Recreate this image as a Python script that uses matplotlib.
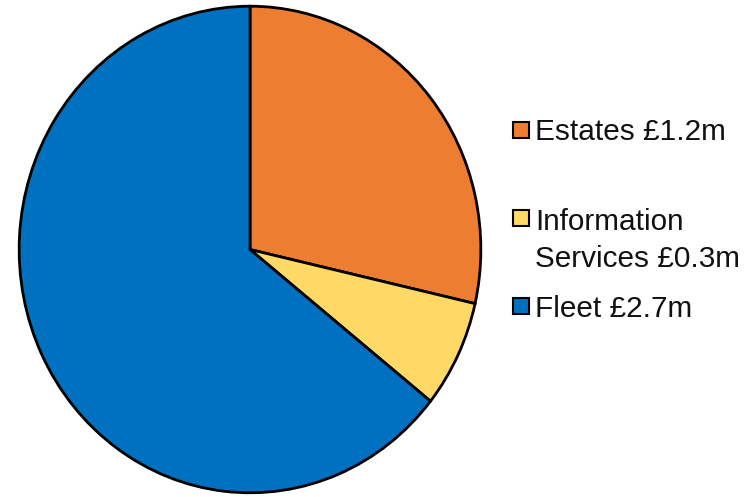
import matplotlib.pyplot as plt
from matplotlib.patches import Rectangle

plt.rcParams['font.family'] = ['Liberation Sans', 'DejaVu Sans']

labels = ['Estates £1.2m', 'Information\nServices £0.3m', 'Fleet £2.7m']
values = [1.2, 0.3, 2.7]
colors = ['#ED7D31', '#FFD966', '#0070C0']

W, H = 754, 497
fig = plt.figure(figsize=(W / 100, H / 100), dpi=100)

# pie fills a slightly taller-than-wide box, like the original
ax = fig.add_axes([18 / W, 3 / H, 464 / W, 489 / H])
ax.pie(values, colors=colors, startangle=90, counterclock=False,
       wedgeprops=dict(edgecolor='black', linewidth=2.0))
ax.set_aspect('auto')
ax.set_xlim(-1.005, 1.005)
ax.set_ylim(-1.005, 1.005)
ax.axis('off')

# legend drawn by hand so the square sits on the first line of each label
box_y = [130, 218, 306]
text_y = [140, 230, 317]
for lab, col, by, ty in zip(labels, colors, box_y, text_y):
    fig.patches.append(Rectangle((513 / W, (H - by - 8) / H), 16 / W, 16 / H,
                                 transform=fig.transFigure, facecolor=col,
                                 edgecolor='black', linewidth=1.5))
    for i, line in enumerate(lab.split('\n')):
        fig.text(535 / W, (H - ty - i * 37) / H, line, fontsize=21.4,
                 va='baseline', ha='left', color='#111111')

fig.savefig('out.png', dpi=100)
